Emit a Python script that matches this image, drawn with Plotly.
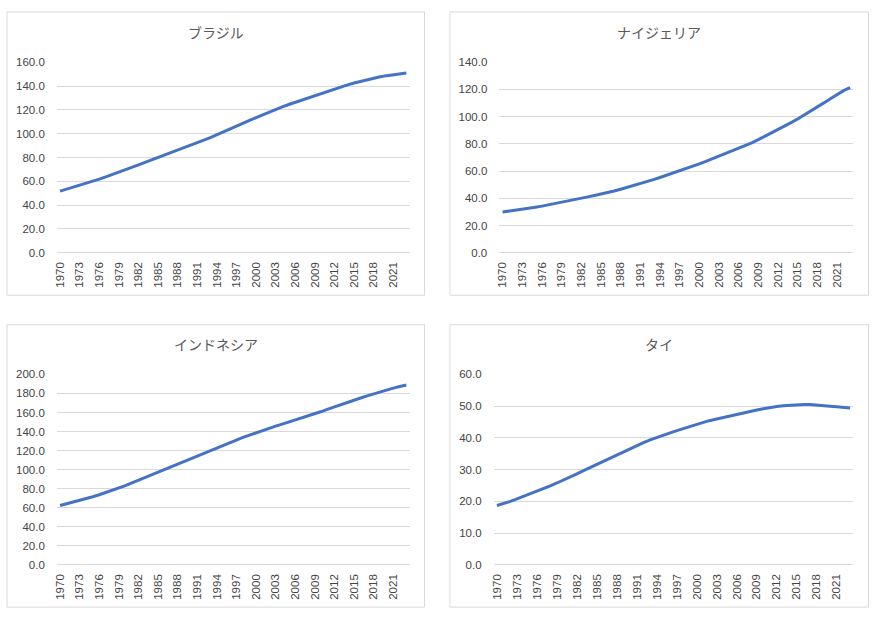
import plotly.graph_objects as go

years = list(range(1970, 2024))

brazil = [51.8, 53.4, 55.0, 56.7, 58.3, 60.0, 61.8, 63.7, 65.6, 67.6,
          69.6, 71.7, 73.8, 75.9, 77.9, 79.9, 81.9, 84.0, 86.1, 88.2,
          90.3, 92.4, 94.5, 96.7, 99.0, 101.5, 103.9, 106.3, 108.7, 111.1,
          113.5, 115.9, 118.2, 120.4, 122.5, 124.5, 126.4, 128.3, 130.2, 132.1,
          134.0, 135.9, 137.7, 139.4, 141.0, 142.5, 143.9, 145.2, 146.5, 147.7,
          148.7, 149.5, 150.3, 151.0]

nigeria = [30.0, 30.6, 31.3, 32.0, 32.7, 33.5, 34.3, 35.2, 36.1, 37.1,
           38.1, 39.1, 40.1, 41.1, 42.1, 43.1, 44.2, 45.4, 46.7, 48.0,
           49.3, 50.7, 52.2, 53.7, 55.3, 56.9, 58.5, 60.2, 61.9, 63.6,
           65.3, 67.1, 69.0, 70.9, 72.8, 74.7, 76.6, 78.7, 80.8, 83.1,
           85.5, 88.0, 90.5, 93.0, 95.6, 98.3, 101.1, 104.0, 107.0, 110.1,
           113.2, 116.3, 119.1, 121.3]

indonesia = [62.4, 64.1, 65.8, 67.6, 69.6, 71.6, 73.7, 75.9, 78.2, 80.6,
             83.3, 86.1, 88.9, 91.8, 94.7, 97.6, 100.4, 103.2, 106.0, 108.9,
             111.8, 114.7, 117.5, 120.4, 123.3, 126.0, 128.6, 131.2, 133.8, 136.3,
             138.8, 141.2, 143.5, 145.7, 147.8, 149.9, 152.0, 154.1, 156.3, 158.6,
             161.0, 163.5, 166.0, 168.3, 170.6, 172.9, 175.2, 177.5, 179.7, 181.8,
             183.8, 185.6, 187.3, 188.9]

thailand = [18.7, 19.3, 20.0, 20.8, 21.6, 22.3, 23.1, 24.0, 24.9, 25.8,
            26.7, 27.7, 28.7, 29.7, 30.7, 31.7, 32.7, 33.7, 34.7, 35.7,
            36.7, 37.6, 38.5, 39.4, 40.2, 40.9, 41.6, 42.3, 43.0, 43.7,
            44.3, 44.9, 45.5, 46.0, 46.5, 47.0, 47.5, 47.9, 48.4, 48.8,
            49.2, 49.6, 49.9, 50.1, 50.3, 50.4, 50.5, 50.5, 50.4, 50.2,
            50.0, 49.8, 49.6, 49.4]

titles = ["ブラジル", "ナイジェリア", "インドネシア", "タイ"]
series = [brazil, nigeria, indonesia, thailand]
y_max = [160, 140, 200, 60]
y_step = [20, 20, 20, 10]
x_ticks = list(range(1970, 2022, 3))

W, H = 875, 617
# plot areas in pixels: (left, right, top, bottom)
areas = [(54, 408, 57.3, 251.7), (498, 853.3, 57.3, 251.7),
         (54, 408, 375.7, 570), (492.3, 853.3, 375.7, 570)]
borders = [(4, 423, 6, 295), (448.5, 868.5, 6, 295),
           (4, 423, 325, 613), (448.5, 868.5, 325, 613)]
title_pos = [(214, 27), (658, 27), (214, 345), (658, 345)]

grey = "#595959"
tick_font = dict(family="Liberation Sans, Arial", size=11.5, color="#454545")

fig = go.Figure()
layout = dict(width=W, height=H, margin=dict(l=0, r=0, t=0, b=0),
              paper_bgcolor="white", plot_bgcolor="white", showlegend=False,
              shapes=[], annotations=[])

for i in range(4):
    n = "" if i == 0 else str(i + 1)
    fig.add_trace(go.Scatter(x=years, y=series[i], mode="lines",
                             line=dict(color="#4472C4", width=3),
                             xaxis="x" + n, yaxis="y" + n, hoverinfo="skip"))
    l, r, t, b = areas[i]
    layout["xaxis" + n] = dict(
        domain=[l / W, r / W], range=[1969.5, 2023.5], anchor="y" + n,
        tickvals=x_ticks, ticktext=[str(v) for v in x_ticks], tickangle=-90,
        showgrid=False, zeroline=False, showline=False, ticks="",
        ticklabelstandoff=6,
        tickfont=tick_font, fixedrange=True)
    layout["yaxis" + n] = dict(
        domain=[1 - b / H, 1 - t / H], range=[0, y_max[i]], anchor="x" + n,
        tickvals=list(range(0, y_max[i] + 1, y_step[i])),
        ticktext=["%.1f" % v for v in range(0, y_max[i] + 1, y_step[i])],
        showgrid=True, gridcolor="#d9d9d9", gridwidth=1,
        zeroline=True, zerolinecolor="#d9d9d9", zerolinewidth=1,
        showline=False, ticks="", ticklabelstandoff=11,
        tickfont=tick_font, fixedrange=True)
    bl, br, bt, bb = borders[i]
    layout["shapes"].append(dict(type="rect", xref="paper", yref="paper",
                                 x0=bl / W, x1=br / W, y0=1 - bb / H, y1=1 - bt / H,
                                 line=dict(color="#d9d9d9", width=1)))
    tx, ty = title_pos[i]
    layout["annotations"].append(dict(
        text=titles[i], x=tx / W, y=1 - ty / H, xref="paper", yref="paper",
        showarrow=False, xanchor="center", yanchor="middle",
        font=dict(family="Noto Sans CJK JP", size=14, color=grey)))

fig.update_layout(**layout)
fig.write_html("out.html")
